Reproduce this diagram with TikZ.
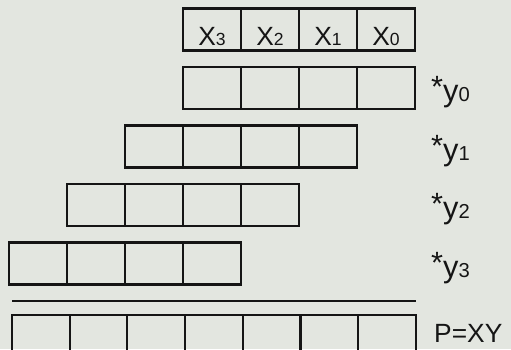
\documentclass[tikz,border=0pt]{standalone}
\usepackage{fontspec}
\setmainfont{Liberation Sans}
\usepackage{xcolor}
\usepackage{tikz}
\usetikzlibrary{positioning}
\definecolor{zeminGri}{HTML}{E3E6E0}
\definecolor{cizgiSiyah}{HTML}{151515}
\newcommand{\indis}[2]{{\fontsize{#1}{#1}\selectfont #2}}

\begin{document}
\begin{tikzpicture}[x=0.02cm, y=-0.02cm,
  every node/.style={font=\fontsize{15}{18}\selectfont, text=cizgiSiyah},
  hucre/.style={draw=cizgiSiyah, line width=1.2pt, minimum width=1.16cm,
                minimum height=0.84cm, inner sep=0pt},
  etiket/.style={anchor=base west, font=\fontsize{17.5}{20}\selectfont}]
\fill[zeminGri] (0,0) rectangle (511,349);
\useasboundingbox (0,0) rectangle (511,349);
% carpilan X
\foreach \i/\t in {0/3,1/2,2/1,3/0} {
  \node[hucre] (x\t) at (212+58*\i,29.5) {};
  \node[anchor=base] (tx\t) at ([yshift=0.12cm]x\t.south) {X\indis{10}{\t}};
}
% kismi carpimlar
\foreach \r in {0,...,3} {
  \foreach \i in {0,...,3}
    \node[hucre] (p\r\i) at (212-58*\r+58*\i,88+58.5*\r) {};
  \node[etiket] (ly\r) at (425,101.5+58.5*\r) {\raisebox{0.08cm}{*}y\indis{11.5}{\r}};
}
\draw[cizgiSiyah,line width=1.2pt] (12,301) -- (416,301);
% sonuc
\foreach \i in {0,...,6}
  \node[hucre, minimum width=1.154cm] (s\i) at (40.8+57.7*\i,336) {};
\node[anchor=base west] (sonuc) at (428,342) {P=XY};
\end{tikzpicture}
\end{document}
